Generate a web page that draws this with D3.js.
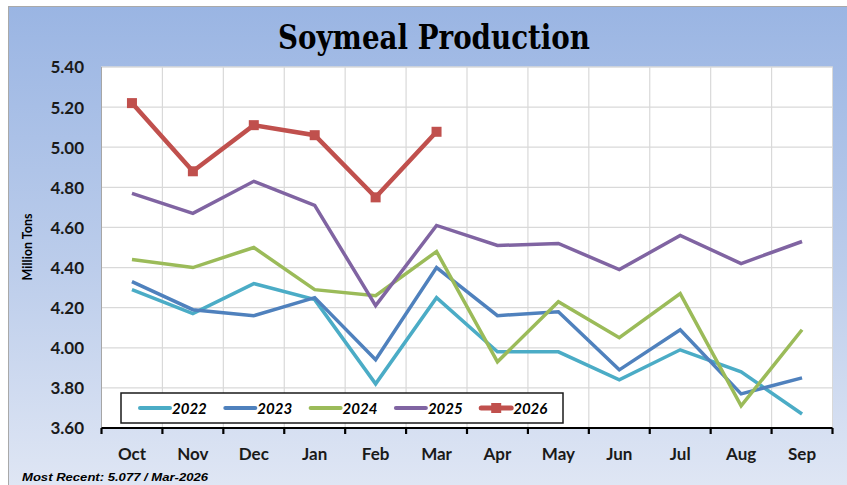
<!DOCTYPE html>
<html>
<head>
<meta charset="utf-8">
<script src="https://cdn.jsdelivr.net/npm/d3@7"></script>
<style>
  html, body { margin: 0; padding: 0; background: #ffffff; }
  svg { display: block; }
</style>
</head>
<body>
<svg id="chart" width="847" height="485"></svg>
<script>
// ---- data ----
const months = ["Oct","Nov","Dec","Jan","Feb","Mar","Apr","May","Jun","Jul","Aug","Sep"];
const yTicks = [3.6, 3.8, 4.0, 4.2, 4.4, 4.6, 4.8, 5.0, 5.2, 5.4];
const s2022 = [4.29, 4.17, 4.32, 4.24, 3.82, 4.25, 3.98, 3.98, 3.84, 3.99, 3.88, 3.67];
const s2023 = [4.33, 4.19, 4.16, 4.25, 3.94, 4.40, 4.16, 4.18, 3.89, 4.09, 3.77, 3.85];
const s2024 = [4.44, 4.40, 4.50, 4.29, 4.26, 4.48, 3.93, 4.23, 4.05, 4.27, 3.71, 4.09];
const s2025 = [4.77, 4.67, 4.83, 4.71, 4.21, 4.61, 4.51, 4.52, 4.39, 4.56, 4.42, 4.53];
const s2026 = [5.22, 4.88, 5.11, 5.06, 4.75, 5.077];
const seriesNames = ["2022", "2023", "2024", "2025", "2026"];
const titleText = "Soymeal Production";
const yTitle = "Million Tons";
const footText = "Most Recent: 5.077 / Mar-2026";

const series = [
  { name: seriesNames[0], values: s2022, color: "#4bacc6", width: 3.5, marker: false },
  { name: seriesNames[1], values: s2023, color: "#4f81bd", width: 3.5, marker: false },
  { name: seriesNames[2], values: s2024, color: "#9bbb59", width: 3.5, marker: false },
  { name: seriesNames[3], values: s2025, color: "#8064a2", width: 3.5, marker: false },
  { name: seriesNames[4], values: s2026, color: "#c0504d", width: 4.5, marker: true }
];

const svg = d3.select("#chart");
const W = 847, H = 485;
const plot = { left: 101.5, right: 832.5, top: 67, bottom: 428 };

// background gradient
const defs = svg.append("defs");
const grad = defs.append("linearGradient").attr("id", "bg").attr("x1", 0).attr("y1", 0).attr("x2", 0).attr("y2", 1);
grad.append("stop").attr("offset", "0%").attr("stop-color", "#9ab5e3");
grad.append("stop").attr("offset", "55%").attr("stop-color", "#bccdeb");
grad.append("stop").attr("offset", "100%").attr("stop-color", "#dfe6f4");

svg.append("rect").attr("x", 8).attr("y", 6).attr("width", W - 8).attr("height", H - 6).attr("fill", "url(#bg)");
svg.append("line").attr("x1", 8).attr("x2", W).attr("y1", 6.5).attr("y2", 6.5).attr("stroke", "#a9a9a9").attr("stroke-width", 1);
svg.append("line").attr("x1", 8.5).attr("x2", 8.5).attr("y1", 6).attr("y2", H).attr("stroke", "#a9a9a9").attr("stroke-width", 1);

// scales
const x = d3.scaleBand().domain(months).range([plot.left, plot.right]).padding(0);
const y = d3.scaleLinear().domain([3.6, 5.4]).range([plot.bottom, plot.top]);
const cx = m => x(m) + x.bandwidth() / 2;

// plot area
svg.append("rect").attr("x", plot.left).attr("y", plot.top)
  .attr("width", plot.right - plot.left).attr("height", plot.bottom - plot.top)
  .attr("fill", "#ffffff").attr("stroke", "#d9d9d9").attr("stroke-width", 1);

// gridlines
const grid = svg.append("g");
grid.selectAll("line.h").data(yTicks).join("line")
  .attr("x1", plot.left).attr("x2", plot.right)
  .attr("y1", d => y(d)).attr("y2", d => y(d))
  .attr("stroke", "#d9d9d9").attr("stroke-width", 1.2);
grid.selectAll("line.v").data(months.slice(1)).join("line")
  .attr("x1", d => x(d)).attr("x2", d => x(d))
  .attr("y1", plot.top).attr("y2", plot.bottom)
  .attr("stroke", "#d9d9d9").attr("stroke-width", 1.2);

// left border
svg.append("line").attr("x1", plot.left).attr("x2", plot.left).attr("y1", plot.top).attr("y2", plot.bottom)
  .attr("stroke", "#a6a6a6").attr("stroke-width", 1);

// y axis labels
const yAxis = d3.axisLeft(y).tickValues(yTicks).tickSize(0).tickPadding(0).tickFormat(d3.format(".2f"));
const gy = svg.append("g").attr("transform", `translate(84,0)`).call(yAxis);
gy.select(".domain").remove();
gy.selectAll("text").attr("font-family", "Lato, 'Open Sans', sans-serif").attr("font-weight", 700)
  .attr("font-size", 17).attr("fill", "#1a1a1a").attr("dy", "0.35em");

// x axis
const xAxis = d3.axisBottom(x).tickSize(0).tickPadding(0);
const gx = svg.append("g").attr("transform", `translate(0,${plot.bottom})`).call(xAxis);
gx.select(".domain").remove();
gx.selectAll("text").attr("font-family", "Lato, 'Open Sans', sans-serif").attr("font-weight", 700)
  .attr("font-size", 17).attr("fill", "#1a1a1a").attr("y", 32).attr("dy", 0);

// bottom axis line + tick marks at band boundaries
const boundaries = months.map(m => x(m)).concat([plot.right]);
svg.append("line").attr("x1", plot.left).attr("x2", plot.right).attr("y1", plot.bottom).attr("y2", plot.bottom)
  .attr("stroke", "#000").attr("stroke-width", 2.2);
svg.selectAll("line.xt").data(boundaries).join("line")
  .attr("x1", d => d).attr("x2", d => d).attr("y1", plot.bottom).attr("y2", plot.bottom + 6)
  .attr("stroke", "#000").attr("stroke-width", 2.2);

// lines
const line = d3.line().x((d, i) => cx(months[i])).y(d => y(d));
series.forEach(s => {
  svg.append("path").datum(s.values).attr("d", line)
    .attr("fill", "none").attr("stroke", s.color).attr("stroke-width", s.width)
    .attr("stroke-linejoin", "miter").attr("stroke-linecap", "butt");
  if (s.marker) {
    svg.selectAll(null).data(s.values).join("rect")
      .attr("x", (d, i) => cx(months[i]) - 5).attr("y", d => y(d) - 5)
      .attr("width", 10).attr("height", 10).attr("fill", s.color);
  }
});

// legend
const lg = svg.append("g");
lg.append("rect").attr("x", 121).attr("y", 393).attr("width", 442).attr("height", 30)
  .attr("fill", "#ffffff").attr("stroke", "#1a1a1a").attr("stroke-width", 1.5);
series.forEach((s, i) => {
  const x0 = 140 + i * 85.3;
  lg.append("line").attr("x1", x0).attr("x2", x0 + 30).attr("y1", 408).attr("y2", 408)
    .attr("stroke", s.color).attr("stroke-width", s.marker ? 5 : 4).attr("stroke-linecap", "round");
  if (s.marker) {
    lg.append("rect").attr("x", x0 + 10).attr("y", 403).attr("width", 10).attr("height", 10).attr("fill", s.color);
  }
  lg.append("text").attr("x", x0 + 32).attr("y", 413.5).text(s.name)
    .attr("font-family", "Lato, 'Open Sans', sans-serif").attr("font-weight", 700).attr("font-style", "italic")
    .attr("font-size", 15).attr("fill", "#000");
});

// title
svg.append("text").attr("x", 434).attr("y", 49).attr("text-anchor", "middle")
  .attr("font-family", "'DejaVu Serif', 'Liberation Serif', serif").attr("font-weight", 700)
  .attr("font-stretch", "condensed").attr("font-size", 33)
  .attr("textLength", 312).attr("lengthAdjust", "spacingAndGlyphs")
  .attr("fill", "#000").text(titleText);

// y title
svg.append("text").attr("transform", `translate(32,247) rotate(-90)`).attr("text-anchor", "middle")
  .attr("font-family", "Lato, 'Open Sans', sans-serif").attr("font-weight", 700).attr("font-size", 12.5)
  .attr("fill", "#000").text(yTitle);

// footnote
svg.append("text").attr("x", 22).attr("y", 481)
  .attr("font-family", "'Liberation Sans', Arial, sans-serif").attr("font-weight", 700).attr("font-style", "italic")
  .attr("font-size", 11).attr("textLength", 186).attr("lengthAdjust", "spacingAndGlyphs")
  .attr("fill", "#000").text(footText);
</script>
</body>
</html>
